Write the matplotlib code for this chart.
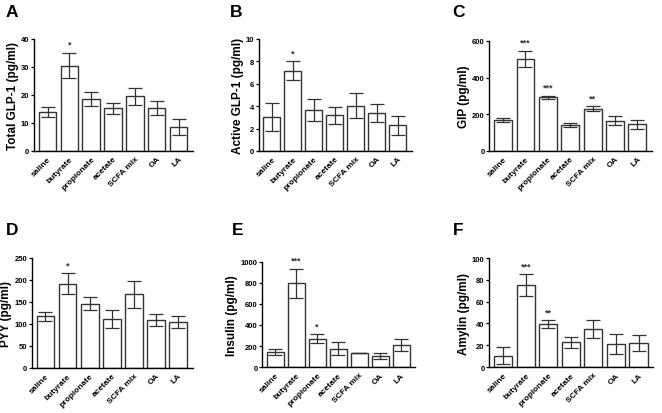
import matplotlib.pyplot as plt
import numpy as np

plt.rcParams['font.family'] = ['Liberation Sans', 'DejaVu Sans']
plt.rcParams['font.weight'] = 'bold'

# treatment groups
groups = ["saline", "butyrate", "propionate", "acetate", "SCFA mix", "OA", "LA"]

# means, lower / upper error bar ends, significance marks
glp1_total = [14.0, 30.5, 18.6, 15.2, 19.5, 15.5, 8.5]
glp1_total_lo = [12.0, 26.0, 16.2, 13.3, 16.5, 13.0, 5.6]
glp1_total_hi = [15.7, 35.0, 21.2, 17.2, 22.6, 18.0, 11.4]
glp1_total_sig = ["", "*", "", "", "", "", ""]

glp1_active = [3.0, 7.15, 3.65, 3.2, 4.05, 3.38, 2.28]
glp1_active_lo = [1.8, 6.3, 2.65, 2.4, 2.9, 2.6, 1.45]
glp1_active_hi = [4.25, 8.0, 4.65, 3.95, 5.2, 4.2, 3.1]
glp1_active_sig = ["", "*", "", "", "", "", ""]

gip = [168, 502, 292, 140, 230, 165, 145]
gip_lo = [155, 458, 282, 128, 215, 140, 120]
gip_hi = [178, 547, 300, 150, 245, 190, 168]
gip_sig = ["", "***", "***", "", "**", "", ""]

pyy = [117, 191, 146, 111, 167, 108, 104]
pyy_lo = [107, 167, 131, 90, 137, 94, 90]
pyy_hi = [127, 215, 161, 132, 197, 122, 118]
pyy_sig = ["", "*", "", "", "", "", ""]

insulin = [142, 797, 270, 175, 135, 105, 210]
insulin_lo = [110, 660, 230, 113, 132, 80, 150]
insulin_hi = [175, 935, 310, 237, 138, 130, 268]
insulin_sig = ["", "***", "*", "", "", "", ""]

amylin = [10.5, 75, 39.5, 22.7, 35, 21, 22.5]
amylin_lo = [2.5, 65, 36, 17.5, 27, 12, 15]
amylin_hi = [18.5, 85, 43, 28, 43, 30, 29.5]
amylin_sig = ["", "***", "**", "", "", "", ""]

fig = plt.figure(figsize=(6.62, 4.14), dpi=100)

panels = [
    ("A", "Total GLP-1 (pg/ml)", glp1_total, glp1_total_lo, glp1_total_hi, glp1_total_sig,
     [0, 10, 20, 30, 40], [0.0514, 0.633, 0.240, 0.2705], (6, 17)),
    ("B", "Active GLP-1 (pg/ml)", glp1_active, glp1_active_lo, glp1_active_hi, glp1_active_sig,
     [0, 2, 4, 6, 8, 10], [0.391, 0.633, 0.231, 0.2705], (230, 17)),
    ("C", "GIP (pg/ml)", gip, gip_lo, gip_hi, gip_sig,
     [0, 200, 400, 600], [0.739, 0.633, 0.246, 0.266], (452, 17)),
    ("D", "PYY (pg/ml)", pyy, pyy_lo, pyy_hi, pyy_sig,
     [0, 50, 100, 150, 200, 250], [0.048, 0.109, 0.243, 0.266], (6, 235)),
    ("E", "Insulin (pg/ml)", insulin, insulin_lo, insulin_hi, insulin_sig,
     [0, 200, 400, 600, 800, 1000], [0.396, 0.111, 0.231, 0.254], (232, 235)),
    ("F", "Amylin (pg/ml)", amylin, amylin_lo, amylin_hi, amylin_sig,
     [0, 20, 40, 60, 80, 100], [0.739, 0.111, 0.248, 0.263], (453, 235)),
]

edge = "#333333"
x = np.arange(len(groups))

for letter, ylabel, vals, lo, hi, sig, yticks, pos, lpos in panels:
    ax = fig.add_axes(pos)
    vals = np.array(vals, dtype=float)
    err = [vals - np.array(lo), np.array(hi) - vals]
    ax.bar(x, vals, width=0.8, color="white", edgecolor=edge, linewidth=1.0, zorder=2)
    ax.errorbar(x, vals, yerr=err, fmt="none", ecolor=edge, elinewidth=0.9,
                capsize=5, capthick=0.9, zorder=3)
    ymax = yticks[-1]
    for xi, h, s in zip(x, hi, sig):
        if s:
            ax.text(xi, h + ymax * 0.035, s, ha="center", va="bottom", fontsize=6.5,
                    color=edge)
    ax.set_xlim(-0.62, 6.66)
    ax.set_ylim(0, ymax)
    ax.set_yticks(yticks)
    ax.set_yticklabels([str(t) for t in yticks], fontsize=5.5, fontweight="bold")
    ax.set_xticks(x)
    ax.set_xticklabels(groups, rotation=45, ha="right", rotation_mode="anchor",
                       fontsize=6, fontweight="bold")
    ax.tick_params(axis="x", length=0, pad=3)
    ax.tick_params(axis="y", length=2.5, width=0.9, pad=0.8)
    ax.spines["top"].set_visible(False)
    ax.spines["right"].set_visible(False)
    ax.spines["left"].set_linewidth(1.0)
    ax.spines["bottom"].set_linewidth(1.0)
    ax.set_ylabel(ylabel, fontsize=8.5, fontweight="bold", labelpad=1.5)
    fig.text(lpos[0] / 662, 1 - lpos[1] / 414, letter, fontsize=12.5, fontweight="bold",
             ha="left", va="baseline")

fig.savefig("out.png", dpi=100)
